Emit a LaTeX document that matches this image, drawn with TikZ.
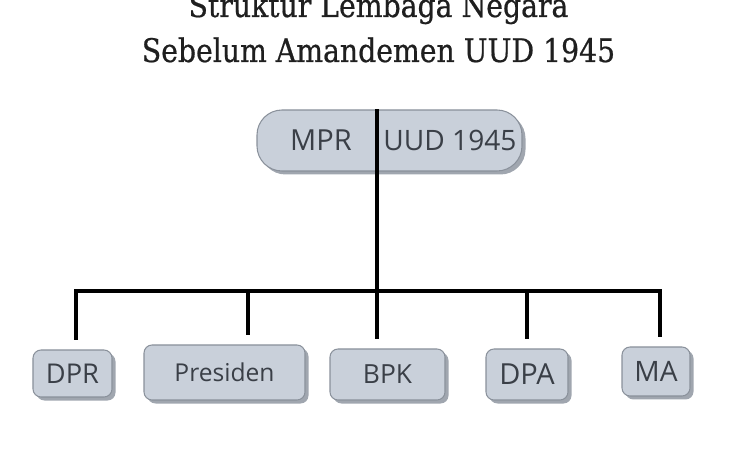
\documentclass[tikz,border=0pt]{standalone}
\usepackage{fontspec}
\usepackage{xcolor}
\usetikzlibrary{shadows}
\newfontfamily\boxfont{Open Sans}
\newfontfamily\titlefont[FakeStretch=0.87, FakeBold=0.6]{DejaVu Serif}
\definecolor{lembagafill}{HTML}{C9D0DA}
\definecolor{lembagaline}{HTML}{8A919B}
\definecolor{lembagashadow}{HTML}{A0A6AF}
\definecolor{lembagatext}{HTML}{3A3F47}
\tikzset{
	lembaga/.style={
			draw=lembagaline, fill=lembagafill, line width=0.6pt,
			rounded corners=0.16cm, inner sep=0pt,
			text=lembagatext, font=\boxfont\fontsize{#1}{18}\selectfont,
			drop shadow={shadow xshift=0.07cm, shadow yshift=-0.07cm,
					fill=lembagashadow, opacity=1}
		},
	lembaga/.default=15,
	judul/.style={font=\titlefont\fontsize{18.5}{22}\selectfont, text=black!88, anchor=base},
	garis/.style={line width=2.1pt, black}
}

\begin{document}
\begin{tikzpicture}
        \useasboundingbox (0, 0) rectangle (15, 9);
        \node[judul] (judul1) at (7.57, 8.66) {Struktur Lembaga Negara};
        \node[judul] (judul2) at (7.57, 7.76) {Sebelum Amandemen UUD 1945};
        \node[lembaga, rounded corners=0.5cm, minimum width=5.3cm, minimum height=1.22cm] (mpr_box) at (7.79, 6.19) {};
        \node[text=lembagatext, font=\boxfont\fontsize{16.5}{18}\selectfont] (mpr) at (6.42, 6.2) {MPR};
        \node[text=lembagatext, font=\boxfont\fontsize{16}{18}\selectfont] (uud) at (9.0, 6.2) {UUD 1945};
        \coordinate (pusat) at (7.54, 3.18);
        \coordinate (bus_kiri) at (1.52, 3.18);
        \coordinate (bus_kanan) at (13.2, 3.18);
        \node[lembaga=15.5, minimum width=1.58cm, minimum height=0.94cm] (dpr) at (1.45, 1.53) {DPR};
        \node[lembaga=14, minimum width=3.22cm, minimum height=1.1cm] (presiden) at (4.49, 1.55) {Presiden};
        \node[lembaga=15, minimum width=2.3cm, minimum height=1.02cm] (bpk) at (7.75, 1.51) {BPK};
        \node[lembaga=16.5, minimum width=1.64cm, minimum height=1.02cm] (dpa) at (10.54, 1.51) {DPA};
        \node[lembaga=16, minimum width=1.36cm, minimum height=0.98cm] (ma) at (13.12, 1.57) {MA};
        \coordinate (turun_dpr) at (1.52, 3.18);
        \coordinate (turun_presiden) at (4.96, 3.18);
        \coordinate (turun_bpk) at (7.54, 3.18);
        \coordinate (turun_dpa) at (10.54, 3.18);
        \coordinate (turun_ma) at (13.2, 3.18);
        \draw[garis] (pusat |- mpr_box.north) -- (pusat);
        \draw[garis, line cap=rect] (bus_kiri) -- (bus_kanan);
        \draw[garis, shorten >=0.18cm] (turun_dpr) -- (turun_dpr |- dpr.north);
        \draw[garis, shorten >=0.18cm] (turun_presiden) -- (turun_presiden |- presiden.north);
        \draw[garis, shorten >=0.18cm] (turun_bpk) -- (turun_bpk |- bpk.north);
        \draw[garis, shorten >=0.18cm] (turun_dpa) -- (turun_dpa |- dpa.north);
        \draw[garis, shorten >=0.18cm] (turun_ma) -- (turun_ma |- ma.north);
    \end{tikzpicture}
\end{document}
